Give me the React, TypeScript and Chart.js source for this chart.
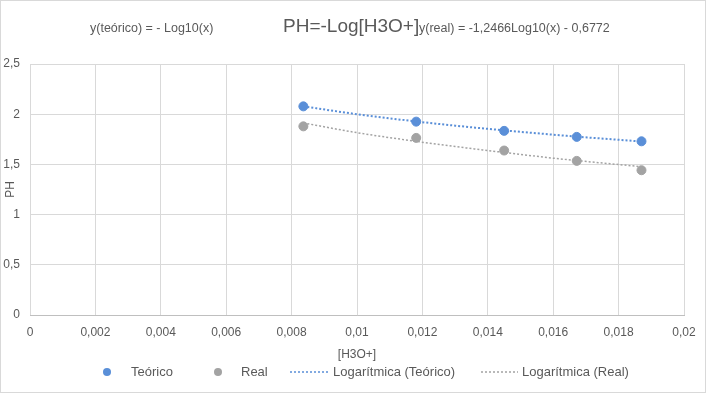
import React, { useEffect, useRef } from "react";
import { Chart, registerables } from "chart.js";

Chart.register(...registerables);

// Measured points
const concentrations = [0.00836, 0.01181, 0.0145, 0.01672, 0.0187];
const phTeorico = [2.078, 1.926, 1.834, 1.774, 1.73];
const phReal = [1.879, 1.764, 1.638, 1.535, 1.442];

// Trend lines
const trendX = [0.00836, 0.01, 0.0118, 0.013, 0.0145, 0.016, 0.0167, 0.0178, 0.0187];
const trendTeorico = [2.078, 2.0, 1.928, 1.886, 1.839, 1.796, 1.777, 1.75, 1.728];
const trendReal = [1.913, 1.816, 1.73, 1.678, 1.619, 1.562, 1.539, 1.505, 1.477];

const chartTitle = "PH=-Log[H3O+]";
const eqTeorico = "y(teórico) = - Log10(x)";
const eqReal = "y(real) = -1,2466Log10(x) - 0,6772";
const legendLabels = ["Teórico", "Real", "Logarítmica (Teórico)", "Logarítmica (Real)"];

const BLUE = "#5A8FD8";
const GRAY = "#A3A3A3";
const TEXT = "#595959";
const FONT = "'Liberation Sans', Arial, sans-serif";

const fmt = (v: number) => String(Number(Number(v).toFixed(4))).replace(".", ",");

const decorPlugin = {
  id: "decor",
  afterDraw(chart: any) {
    const ctx = chart.ctx as CanvasRenderingContext2D;
    ctx.save();
    // border
    ctx.strokeStyle = "#d9d9d9";
    ctx.lineWidth = 1;
    ctx.strokeRect(0.5, 0.5, chart.width - 1, chart.height - 1);
    // title and equations
    ctx.fillStyle = TEXT;
    ctx.textBaseline = "middle";
    ctx.textAlign = "left";
    ctx.font = `19px ${FONT}`;
    ctx.fillText(chartTitle, 283, 27);
    ctx.font = `12.5px ${FONT}`;
    ctx.fillText(eqTeorico, 90, 29);
    ctx.fillText(eqReal, 419, 29);
    // legend
    const ly = 372;
    ctx.font = `13px ${FONT}`;
    ctx.fillStyle = BLUE;
    ctx.beginPath();
    ctx.arc(107, ly, 4, 0, Math.PI * 2);
    ctx.fill();
    ctx.fillStyle = GRAY;
    ctx.beginPath();
    ctx.arc(218, ly, 4, 0, Math.PI * 2);
    ctx.fill();
    ctx.setLineDash([2, 2]);
    ctx.lineWidth = 1.5;
    ctx.strokeStyle = BLUE;
    ctx.beginPath();
    ctx.moveTo(290, ly);
    ctx.lineTo(330, ly);
    ctx.stroke();
    ctx.strokeStyle = GRAY;
    ctx.beginPath();
    ctx.moveTo(481, ly);
    ctx.lineTo(518, ly);
    ctx.stroke();
    ctx.setLineDash([]);
    ctx.fillStyle = TEXT;
    ctx.fillText(legendLabels[0], 131, ly);
    ctx.fillText(legendLabels[1], 241, ly);
    ctx.fillText(legendLabels[2], 333, ly);
    ctx.fillText(legendLabels[3], 522, ly);
    ctx.restore();
  },
};

export default function App() {
  const ref = useRef<HTMLCanvasElement>(null);
  useEffect(() => {
    if (!ref.current) return;
    const chart = new Chart(ref.current, {
      type: "scatter",
      data: {
        datasets: [
          {
            label: legendLabels[0],
            data: concentrations.map((x, i) => ({ x, y: phTeorico[i] })),
            backgroundColor: BLUE,
            borderColor: BLUE,
            pointRadius: 4.5,
            showLine: false,
          },
          {
            label: legendLabels[1],
            data: concentrations.map((x, i) => ({ x, y: phReal[i] })),
            backgroundColor: GRAY,
            borderColor: GRAY,
            pointRadius: 4.5,
            showLine: false,
          },
          {
            label: legendLabels[2],
            data: trendX.map((x, i) => ({ x, y: trendTeorico[i] })),
            borderColor: BLUE,
            borderWidth: 2,
            borderDash: [2, 2],
            pointRadius: 0,
            showLine: true,
            cubicInterpolationMode: "monotone",
          },
          {
            label: legendLabels[3],
            data: trendX.map((x, i) => ({ x, y: trendReal[i] })),
            borderColor: GRAY,
            borderWidth: 1.5,
            borderDash: [2, 2],
            pointRadius: 0,
            showLine: true,
            cubicInterpolationMode: "monotone",
          },
        ],
      },
      options: {
        responsive: false,
        animation: false,
        devicePixelRatio: 1,
        layout: { padding: { top: 64, right: 22, bottom: 30, left: 0 } },
        plugins: { legend: { display: false }, title: { display: false }, tooltip: { enabled: false } },
        scales: {
          x: {
            type: "linear",
            min: 0,
            max: 0.02,
            ticks: {
              stepSize: 0.002,
              color: TEXT,
              font: { family: FONT, size: 12 },
              padding: 10,
              maxRotation: 0,
              callback: (v: any) => fmt(v),
            },
            grid: { color: "#d9d9d9", drawTicks: false },
            border: { color: "#bfbfbf" },
            title: {
              display: true,
              text: "[H3O+]",
              color: TEXT,
              font: { family: FONT, size: 12 },
              padding: { top: 0, bottom: 1 },
            },
            afterFit: (s: any) => {
              s.height = 48;
            },
          },
          y: {
            min: 0,
            max: 2.5,
            ticks: {
              stepSize: 0.5,
              color: TEXT,
              font: { family: FONT, size: 12 },
              padding: 10,
              callback: (v: any) => fmt(v),
            },
            grid: { color: "#d9d9d9", drawTicks: false },
            border: { display: false },
            title: {
              display: true,
              text: "PH",
              color: TEXT,
              font: { family: FONT, size: 12 },
              padding: { top: 3, bottom: 0 },
            },
            afterFit: (s: any) => {
              s.width = 30;
            },
          },
        },
      },
      plugins: [decorPlugin],
    } as any);
    return () => chart.destroy();
  }, []);
  return (
    <div style={{ position: "fixed", left: 0, top: 0, width: 706, height: 393, background: "#fff" }}>
      <canvas ref={ref} width={706} height={393} />
    </div>
  );
}
